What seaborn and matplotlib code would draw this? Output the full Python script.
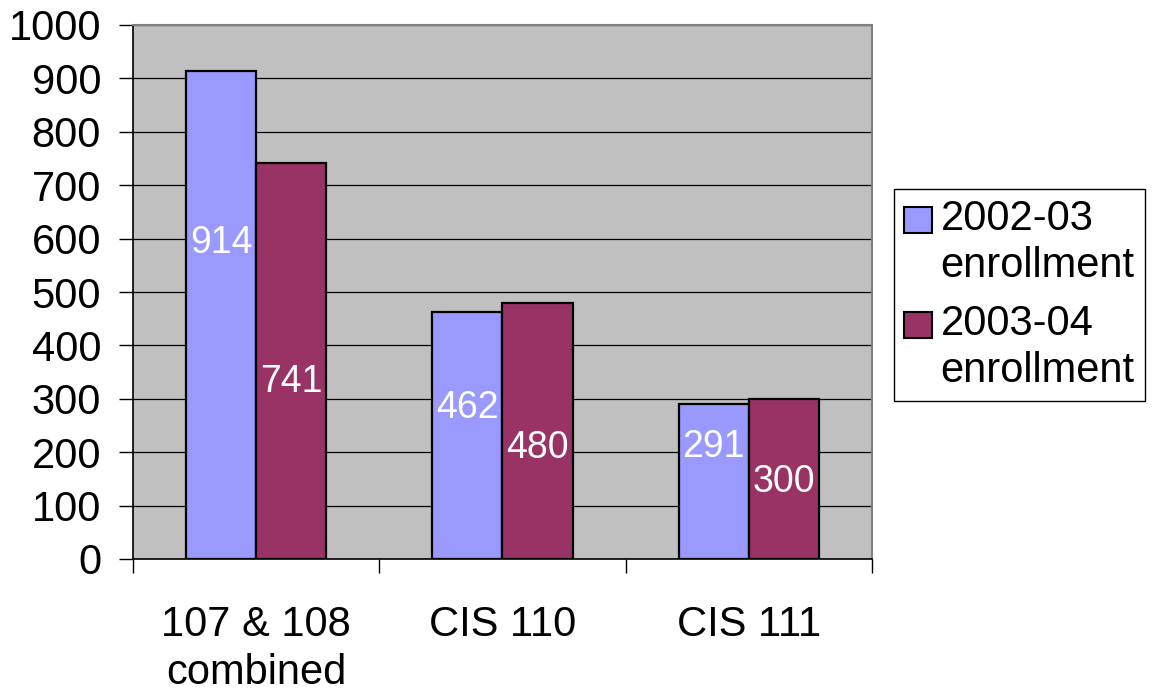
import matplotlib
matplotlib.use("Agg")
import matplotlib.pyplot as plt
from matplotlib.patches import Patch, Rectangle
from matplotlib.legend_handler import HandlerPatch
import seaborn as sns
import pandas as pd

# Enrollment by course group
categories = ["107 & 108\ncombined", "CIS 110", "CIS 111"]
series_names = ["2002-03\nenrollment", "2003-04\nenrollment"]
enroll_2002 = [914, 462, 291]
enroll_2003 = [741, 480, 300]
y_ticks = [0, 100, 200, 300, 400, 500, 600, 700, 800, 900, 1000]

# Heights at which the value labels sit inside each bar
label_pos_2002 = [592, 283, 210]
label_pos_2003 = [331, 208, 144]

colors = ["#9999FF", "#993366"]

df = pd.DataFrame({
    "course": categories * 2,
    "series": [series_names[0]] * 3 + [series_names[1]] * 3,
    "enrollment": enroll_2002 + enroll_2003,
})

sns.set_theme(style="white")
plt.rcParams["font.family"] = ["Liberation Sans", "DejaVu Sans"]
plt.rcParams["text.color"] = "black"
plt.rcParams["xtick.color"] = "black"
plt.rcParams["ytick.color"] = "black"

FS = 30

fig = plt.figure(figsize=(11.57, 6.93), dpi=100)
ax = fig.add_axes([133 / 1157, 134 / 693, 739 / 1157, 534 / 693])
ax.set_facecolor("#C0C0C0")

sns.barplot(data=df, x="course", y="enrollment", hue="series",
            palette=colors, width=0.57, gap=0, edgecolor="black",
            linewidth=1.6, saturation=1, legend=False, ax=ax, zorder=3)

ax.set_xlim(-0.5, 2.5)
ax.set_ylim(0, 1000)
ax.set_yticks(y_ticks)
ax.yaxis.grid(True, color="black", linewidth=0.9, zorder=0)
ax.set_axisbelow(True)
ax.set_xlabel("")
ax.set_ylabel("")

# Value labels inside the bars
n = len(categories)
bars = ax.patches
for i, (v, p) in enumerate(zip(enroll_2002 + enroll_2003, label_pos_2002 + label_pos_2003)):
    b = bars[i]
    ax.text(b.get_x() + b.get_width() / 2, p, str(v), color="white",
            ha="center", va="center", fontsize=27, zorder=5)

# Spines
for side in ["top", "right"]:
    ax.spines[side].set_color("#808080")
    ax.spines[side].set_linewidth(1.5)
for side in ["left", "bottom"]:
    ax.spines[side].set_color("black")
    ax.spines[side].set_linewidth(1.2)

# Ticks
ax.tick_params(axis="y", direction="out", length=10, width=1,
               left=True, labelsize=FS, pad=13)
ax.set_xticks(range(n))
ax.set_xticklabels(categories, fontsize=FS, linespacing=1.25)
ax.tick_params(axis="x", which="major", length=0, pad=33)
ax.set_xticks([-0.5, 0.5, 1.5, 2.5], minor=True)
ax.tick_params(axis="x", which="minor", direction="out", length=10, width=1,
               bottom=True)

# Legend: swatch aligned with the first line of each two-line label
LEG_LS = 1.2


def top_swatch(legend, orig_handle, xdescent, ydescent, width, height, fontsize):
    side = 0.62 * fontsize
    y0 = 0.91 * fontsize - side / 2
    return Rectangle((-xdescent, y0), width, side)


handles = [Patch(facecolor=c, edgecolor="black", linewidth=1.5) for c in colors]
leg = fig.legend(handles, series_names, loc="upper left",
                 bbox_to_anchor=(894 / 1157, 1 - 189 / 693),
                 fontsize=FS, frameon=True, fancybox=False, framealpha=1,
                 edgecolor="black", handlelength=0.67, handleheight=0.7,
                 handletextpad=0.2, labelspacing=0.45, borderpad=0.25,
                 borderaxespad=0,
                 handler_map={Patch: HandlerPatch(patch_func=top_swatch)})
leg.get_frame().set_linewidth(1.0)
for t in leg.get_texts():
    t.set_linespacing(LEG_LS)

fig.savefig("out.png", dpi=100)
